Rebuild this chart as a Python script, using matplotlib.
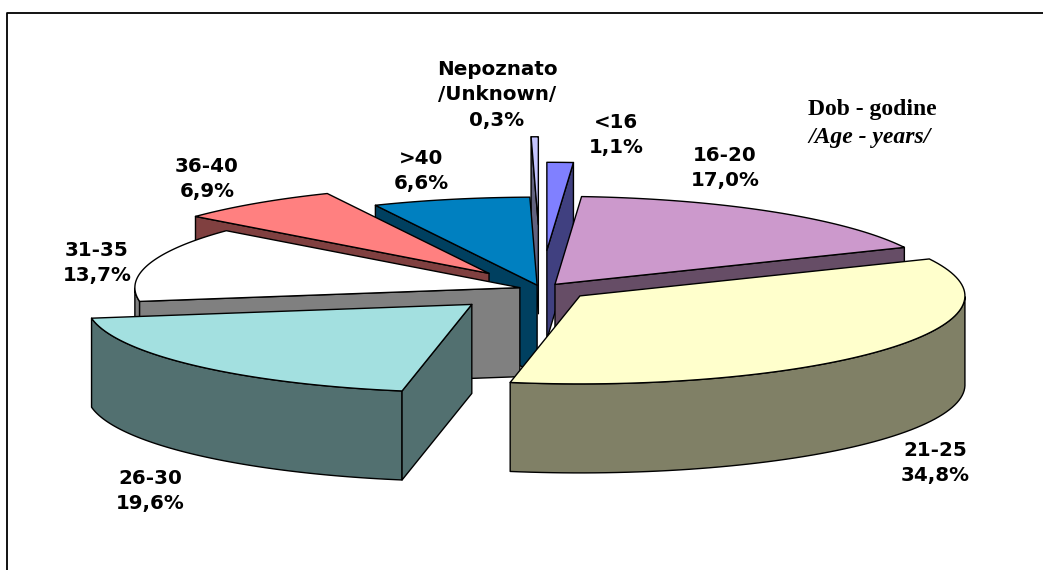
#!/usr/bin/env python3
"""Exploded 3D pie of age groups, drawn by hand since matplotlib has no 3D pie."""

import numpy as np
import matplotlib
matplotlib.use("Agg")
import matplotlib.pyplot as plt
from matplotlib.patches import Polygon

# clockwise from the top of the pie
age_groups = ["<16", "16-20", "21-25", "26-30", "31-35", "36-40", ">40", "Unknown"]
shares = [1.1, 17.0, 34.8, 19.6, 13.7, 6.9, 6.6, 0.3]
share_labels = ["1,1%", "17,0%", "34,8%", "19,6%", "13,7%", "6,9%", "6,6%", "0,3%"]

top_colors = ["#8080FF", "#CC99CC", "#FFFFCC", "#A3E0E0", "#FFFFFF", "#FF8080", "#0080C0", "#C4C4FF"]
# explosion of each slice, as a fraction of the radius
explode = [0.44, 0.064, 0.128, 0.251, 0.057, 0.223, 0.045, 0.73]

# pie geometry in pixels
CX, CY = 541, 289
RX, RY = 385, 88
DEPTH = 89

fig = plt.figure(figsize=(10.43, 5.70), dpi=100)
ax = fig.add_axes([0, 0, 1, 1])
ax.set_xlim(0, 1043)
ax.set_ylim(570, 0)
ax.axis("off")


def rim(t_deg, apex):
    t = np.radians(t_deg)
    return np.column_stack([apex[0] + RX * np.sin(t), apex[1] - RY * np.cos(t)])


def shade(color):
    rgb = np.array(matplotlib.colors.to_rgb(color))
    return tuple(rgb * 0.5)


def add_poly(pts, color, z):
    ax.add_patch(Polygon(pts, closed=True, facecolor=color, edgecolor="black",
                         linewidth=1.0, joinstyle="round", zorder=z))


def draw_slice(t1, t2, color, e, z):
    mid = np.radians((t1 + t2) / 2)
    apex = (CX + e * RX * np.sin(mid), CY - e * RY * np.cos(mid))
    arc_t = np.linspace(t1, t2, 80)
    arc = rim(arc_t, apex)
    down = np.array([0, DEPTH])
    dark = shade(color)

    # outer wall, only where it faces the viewer
    front = arc_t[np.cos(np.radians(arc_t)) < 0]
    if len(front) > 1:
        edge = rim(front, apex)
        add_poly(np.vstack([edge, edge[::-1] + down]), dark, z)

    # radial faces, same test
    for t, visible in ((t1, np.sin(np.radians(t1)) < 0), (t2, np.sin(np.radians(t2)) > 0)):
        if visible:
            p = rim(np.array([t]), apex)[0]
            face = np.array([apex, p, p + down, np.array(apex) + down])
            add_poly(face, dark, z + 0.1)

    add_poly(np.vstack([[apex], arc]), color, z + 0.2)


ends = np.cumsum(shares) / np.sum(shares) * 360
starts = np.concatenate([[0], ends[:-1]])
mids = np.radians((starts + ends) / 2)
# back slices first so that the front ones cover them
order = np.argsort(-np.cos(mids))
for rank, i in enumerate(order):
    draw_slice(starts[i], ends[i], top_colors[i], explode[i], rank + 1)

# chart frame, only top and left are inside the picture
ax.plot([1043, 7, 7], [12.5, 12.5, 570], color="black", lw=1.3, zorder=0)

label_font = dict(family="DejaVu Sans", weight="bold", fontsize=14.3, ha="center",
                  va="center", color="black", linespacing=1.42, zorder=30)
label_pos = [(616, 135), (725, 168), (935, 463), (150, 491), (97, 263), (207, 179), (421, 171), (497, 95)]
names = list(age_groups)
names[-1] = "Nepoznato\n/Unknown/"
for name, pct, (x, y) in zip(names, share_labels, label_pos):
    ax.text(x, y, name + "\n" + pct, **label_font)

ax.text(872, 109, "Dob - godine", family="Liberation Serif", weight="bold",
        fontsize=17, ha="center", va="center")
ax.text(870, 138, "/Age - years/", family="Liberation Serif", weight="bold", style="italic",
        fontsize=17, ha="center", va="center")

fig.savefig("out.png", dpi=100)
